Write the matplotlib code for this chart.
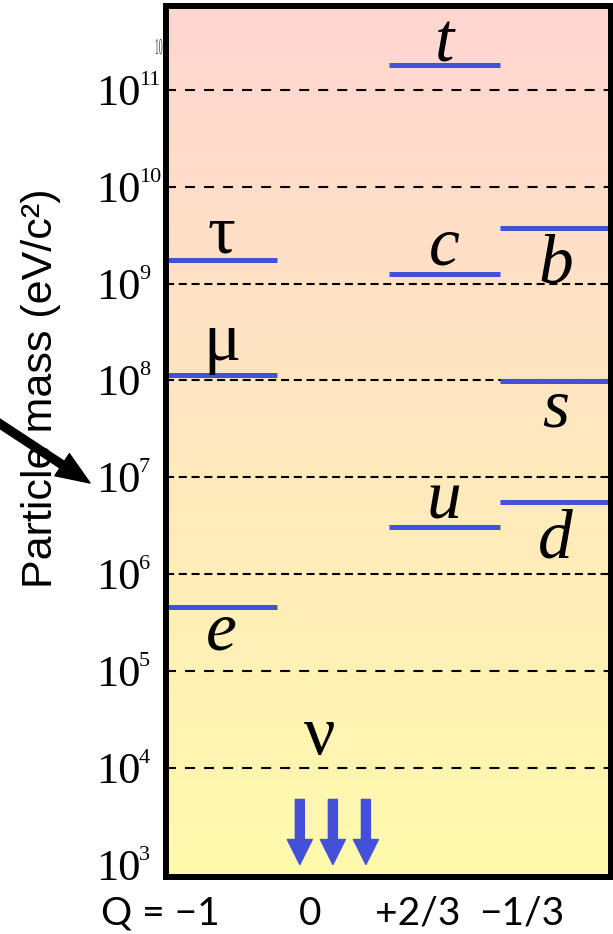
import numpy as np
import matplotlib
matplotlib.use("Agg")
import matplotlib.pyplot as plt
from matplotlib.patches import FancyArrowPatch, PathPatch
from matplotlib.ticker import NullLocator, NullFormatter
from matplotlib.textpath import TextPath
from matplotlib.font_manager import FontProperties
from matplotlib.transforms import Affine2D, blended_transform_factory

plt.rcParams["lines.scale_dashes"] = False

# ---- data -------------------------------------------------------------
charge_labels = ["Q = \u22121", "0", "+2/3", "\u22121/3"]

# masses in eV/c^2
lepton_names = ["e", "\u03bc", "\u03c4"]
lepton_mass = [4.6e5, 1.14e8, 1.75e9]

up_names = ["u", "c", "t"]
up_mass = [3.1e6, 1.26e9, 1.82e11]

down_names = ["d", "s", "b"]
down_mass = [5.5e6, 9.9e7, 3.8e9]

# neutrinos: only upper bounds known, shown as downward arrows
neutrino_label = "\u03bd"
neutrino_count = 3
neutrino_arrow_top = 4.7e3
neutrino_arrow_tip = 1.0e3

decades = list(range(3, 12))

# ---- style ------------------------------------------------------------
W, H, DPI = 613, 934, 100
BLUE = "#4450D8"
PX = 72.0 / DPI  # pixels -> points
SERIF = "Liberation Serif"

# label baseline offset from its bar, in pixels (positive = above)
label_dy = {"e": -43, "\u03bc": 15, "\u03c4": 8,
            "u": 8, "c": 9, "t": 3,
            "d": -55, "s": -46, "b": -55}
long_dash_decades = [4, 5, 10, 11]

fig = plt.figure(figsize=(W / DPI, H / DPI), dpi=DPI)
ax = fig.add_axes([166 / W, 1 - 877 / H, (611 - 166) / W, (877 - 6) / H])

# vertical pink -> yellow background
top_rgb = np.array([255, 214, 210]) / 255
bot_rgb = np.array([255, 250, 172]) / 255
t = np.linspace(0, 1, 256)[:, None]
grad = top_rgb * (1 - t) + bot_rgb * t
ax.imshow(grad[:, None, :], extent=[0, 1, 0, 1], transform=ax.transAxes,
          aspect="auto", origin="upper", zorder=0, interpolation="bilinear")

ax.set_yscale("log")
ax.set_xlim(0, 4)
ax.set_ylim(10 ** 2.871, 10 ** 11.868)

# decade guide lines
for k in decades[1:]:
    dash = (7.2, 6.5) if k in long_dash_decades else (5.8, 3.4)
    ax.hlines(10.0 ** k, 0, 4, colors="black", lw=1.5,
              linestyles=[(0, dash)], zorder=1)

# mass levels
groups = [(0, lepton_names, lepton_mass),
          (2, up_names, up_mass),
          (3, down_names, down_mass)]
for col, names, masses in groups:
    ax.hlines(masses, col, col + 1, colors=BLUE, lw=3.6, zorder=3)
    for name, m in zip(names, masses):
        greek = name in "\u03bc\u03c4\u03bd"
        ax.annotate(name, xy=(col + 0.5, m),
                    xytext=(0, label_dy[name] * PX), textcoords="offset points",
                    ha="center", va="baseline", fontsize=50, family=SERIF,
                    style="normal" if greek else "italic", zorder=4)

# neutrino arrows in the Q = 0 column
nu_x = 1.5 + (np.arange(neutrino_count) - 1) * 0.297
for x in nu_x:
    ax.add_patch(FancyArrowPatch(
        (x, neutrino_arrow_top), (x, neutrino_arrow_tip),
        arrowstyle="simple,head_length=1.0,head_width=1.0,tail_width=0.36",
        mutation_scale=18, color=BLUE, shrinkA=0, shrinkB=0, zorder=3))
ax.annotate(neutrino_label, xy=(1.5, neutrino_arrow_top),
            xytext=(-13 * PX, 45 * PX), textcoords="offset points",
            ha="center", va="baseline", fontsize=50, family=SERIF, zorder=4)

# axes frame and ticks
for s in ax.spines.values():
    s.set_linewidth(4.3)
    s.set_color("black")
    s.set_zorder(5)
ax.set_xticks([])
ax.set_yticks([10.0 ** k for k in decades])
ax.yaxis.set_major_formatter(NullFormatter())
ax.yaxis.set_minor_locator(NullLocator())
ax.tick_params(axis="y", length=0)

# left-aligned "10^k" tick labels
lab_tr = blended_transform_factory(fig.transFigure, ax.transData)
for k in decades:
    ax.annotate("10", xy=(96 / W, 10.0 ** k), xycoords=lab_tr,
                xytext=(0, -15 * PX), textcoords="offset points",
                ha="left", va="baseline", fontsize=32, family=SERIF,
                annotation_clip=False)
    ax.annotate(str(k), xy=(96 / W, 10.0 ** k), xycoords=lab_tr,
                xytext=(43 * PX, 5 * PX), textcoords="offset points",
                ha="left", va="baseline", fontsize=16, family=SERIF,
                annotation_clip=False)

# stray squeezed "10" above the top tick label
tp = TextPath((0, 0), "10", size=23, prop=FontProperties(family=SERIF))
fig.add_artist(PathPatch(tp, transform=Affine2D().scale(0.33, 1.0)
                         .translate(155, H - 54), color="#333333", lw=0))

# axis title
fig.text(41 / W, 1 - 388 / H, "Particle mass (eV/c\u00b2)", rotation=90,
         ha="center", va="center", fontsize=31, family="Liberation Sans")

# pointer arrow towards the 10^7 label
fig.add_artist(FancyArrowPatch(
    (-12 / W, 1 - 416 / H), (90 / W, 1 - 483 / H), transform=fig.transFigure,
    arrowstyle="simple,head_length=1.2,head_width=0.95,tail_width=0.29",
    mutation_scale=20, color="black", shrinkA=0, shrinkB=0))

# charge labels under the columns
charge_x_px = [160, 310, 418, 522]
for lab, xp in zip(charge_labels, charge_x_px):
    fig.text(xp / W, 1 - 925 / H, lab, ha="center", va="baseline",
             fontsize=28, family="Lato")

fig.savefig("out.png", dpi=DPI)
